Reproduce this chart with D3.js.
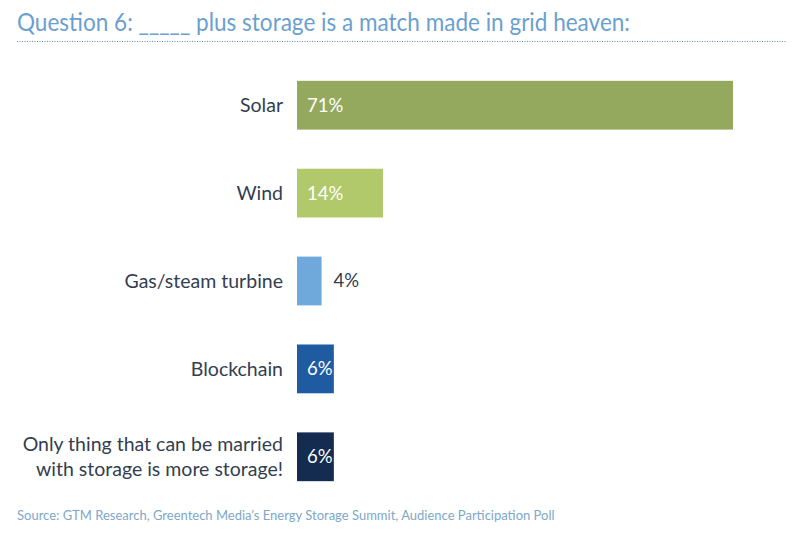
<!DOCTYPE html>
<html><head><meta charset="utf-8">
<script src="https://cdn.jsdelivr.net/npm/d3@7"></script>
<style>body{margin:0;background:#fff}svg{display:block}</style>
</head><body>
<script>
const categories = ["Solar", "Wind", "Gas/steam turbine", "Blockchain", "Only thing that can be married|with storage is more storage!"];
const values = [71, 14, 4, 6, 6];
const colors = ["#94a95e", "#b1c96a", "#6fa8da", "#1f5ba1", "#132c50"];
const titleText = "Question 6: _____ plus storage is a match made in grid heaven:";
const sourceText = "Source: GTM Research, Greentech Media\u2019s Energy Storage Summit, Audience Participation Poll";

const W = 800, H = 541;
const svg = d3.select("body").append("svg").attr("width", W).attr("height", H);

svg.append("text").attr("x", 17).attr("y", 31)
  .attr("font-family", "Lato, sans-serif").attr("font-size", 25)
  .attr("fill", "#6a9fcf").attr("textLength", 613).attr("lengthAdjust", "spacingAndGlyphs")
  .text(titleText);
svg.append("line").attr("x1", 17).attr("x2", 787).attr("y1", 41.5).attr("y2", 41.5)
  .attr("stroke", "#5d8fc2").attr("stroke-width", 1.2).attr("stroke-dasharray", "1,1.5");

const x = d3.scaleLinear().domain([0, 71]).range([297, 733]);
const y = d3.scaleBand().domain(categories).range([61.5, 500.5]).paddingInner(0.445).paddingOuter(0.22);

const g = svg.append("g");
g.selectAll("rect").data(values).join("rect")
  .attr("x", x(0)).attr("y", (d, i) => y(categories[i]))
  .attr("width", d => x(d) - x(0)).attr("height", y.bandwidth())
  .attr("fill", (d, i) => colors[i]);

g.selectAll("text.val").data(values).join("text").attr("class", "val")
  .attr("x", d => d >= 5 ? x(0) + 10 : x(d) + 12)
  .attr("y", (d, i) => y(categories[i]) + y.bandwidth() / 2)
  .attr("dy", "0.35em")
  .attr("font-family", "Lato, sans-serif").attr("font-size", 18.5)
  .attr("fill", d => d >= 5 ? "#ffffff" : "#333d4d")
  .text(d => d + "%");

categories.forEach((c, i) => {
  const lines = c.split("|");
  const cy = y(c) + y.bandwidth() / 2;
  const t = g.append("text").attr("text-anchor", "end")
    .attr("font-family", "Lato, sans-serif").attr("font-size", 19.5).attr("fill", "#333e50");
  lines.forEach((l, j) => {
    t.append("tspan").attr("x", 283)
      .attr("y", cy + (j - (lines.length - 1) / 2) * 25)
      .attr("dy", "0.35em").text(l);
  });
});

svg.append("text").attr("x", 17).attr("y", 520)
  .attr("font-family", "Lato, sans-serif").attr("font-size", 13)
  .attr("fill", "#7ea7c9").text(sourceText);
</script>
</body></html>
